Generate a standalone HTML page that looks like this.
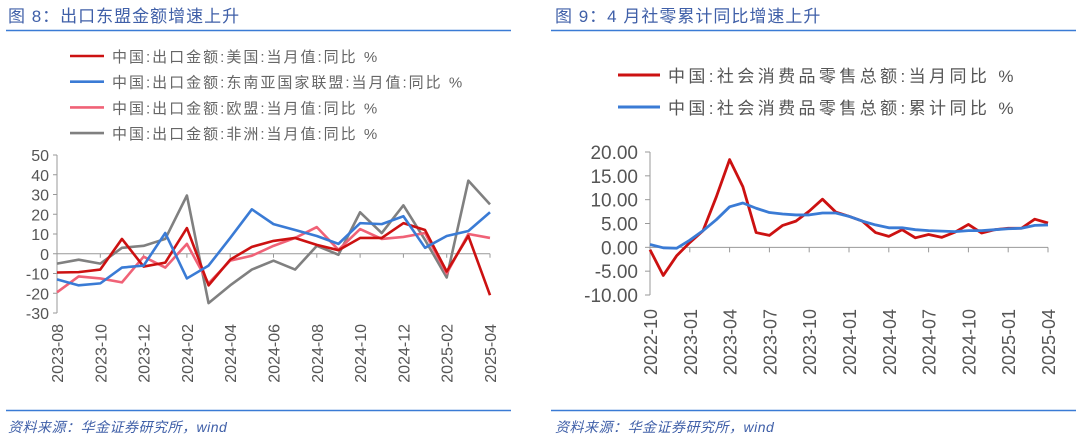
<!DOCTYPE html>
<html><head><meta charset="utf-8">
<style>
body{margin:0;background:#fff;width:1080px;height:442px;overflow:hidden;font-family:"Liberation Sans","Noto Sans CJK SC",sans-serif;}
svg text{font-family:"Liberation Sans","Noto Sans CJK SC",sans-serif;}
</style></head>
<body>
<svg id="c" width="1080" height="442" xmlns="http://www.w3.org/2000/svg">
<text x="8" y="22" font-size="17" letter-spacing="1" fill="#3f5fa8">图 8：出口东盟金额增速上升</text>
<line x1="6" y1="30.5" x2="511" y2="30.5" stroke="#3a7bd5" stroke-width="1.5"/>
<text x="555" y="22" font-size="17" letter-spacing="1" fill="#3f5fa8">图 9：4 月社零累计同比增速上升</text>
<line x1="551" y1="30.5" x2="1076" y2="30.5" stroke="#3a7bd5" stroke-width="1.5"/>
<line x1="6" y1="410.5" x2="511" y2="410.5" stroke="#3a7bd5" stroke-width="1.5"/>
<line x1="551" y1="410.5" x2="1076" y2="410.5" stroke="#3a7bd5" stroke-width="1.5"/>
<text x="8" y="432" font-size="14" letter-spacing="0.5" font-style="italic" fill="#3f5fa8">资料来源：华金证券研究所，wind</text>
<text x="555" y="432" font-size="14" letter-spacing="0.5" font-style="italic" fill="#3f5fa8">资料来源：华金证券研究所，wind</text>
<g id="L"></g><g id="R"></g>
</svg>
<script>
const lCats=["2023-08","2023-09","2023-10","2023-11","2023-12","2024-01","2024-02","2024-03","2024-04","2024-05","2024-06","2024-07","2024-08","2024-09","2024-10","2024-11","2024-12","2025-01","2025-02","2025-03","2025-04"];
const lUS=[-9.5,-9.3,-8,7.5,-6.5,-4.5,13,-16,-3,3.5,6.5,8,4.5,1.8,8,8,15.5,12,-9,9,-21];
const lASEAN=[-13,-16,-15,-7,-6,10.5,-12.5,-6,8,22.5,15,12,9,5,15.5,15,19,3,9,11.5,21];
const lEU=[-19.5,-11.5,-12.5,-14.5,-1.5,-7,5,-15,-3.5,-1,4,8,13.5,2,12.5,7.5,8.5,10.5,-10,10,8];
const lAF=[-5,-3,-5,3,4,7.5,29.5,-25,-16,-8,-3.5,-8,4,-0.5,21,10.5,24.5,7,-12,37,25];
const lTicks=[50,40,30,20,10,0,-10,-20,-30];
const lNames=["中国:出口金额:美国:当月值:同比 %","中国:出口金额:东南亚国家联盟:当月值:同比 %","中国:出口金额:欧盟:当月值:同比 %","中国:出口金额:非洲:当月值:同比 %"];

const rCats=["2022-10","2022-11","2022-12","2023-01","2023-02","2023-03","2023-04","2023-05","2023-06","2023-07","2023-08","2023-09","2023-10","2023-11","2023-12","2024-01","2024-02","2024-03","2024-04","2024-05","2024-06","2024-07","2024-08","2024-09","2024-10","2024-11","2024-12","2025-01","2025-02","2025-03","2025-04"];
const rMonth=[-0.5,-5.9,-1.8,1,3.5,10.6,18.4,12.7,3.1,2.5,4.6,5.5,7.6,10.1,7.4,6.5,5.5,3.1,2.3,3.7,2.0,2.7,2.1,3.2,4.8,3.0,3.7,4.0,4.0,5.9,5.1];
const rCum=[0.6,-0.1,-0.2,1.5,3.5,5.8,8.5,9.3,8.2,7.3,7.0,6.8,6.8,7.2,7.2,6.5,5.5,4.7,4.1,4.1,3.7,3.5,3.4,3.3,3.5,3.5,3.7,3.9,4.0,4.6,4.7];
const rTicks=[20,15,10,5,0,-5,-10];
const rNames=["中国:社会消费品零售总额:当月同比 %","中国:社会消费品零售总额:累计同比 %"];

const NS="http://www.w3.org/2000/svg";
function mk(p,t,a){const e=document.createElementNS(NS,t);for(const k in a)e.setAttribute(k,a[k]);p.appendChild(e);return e;}

(function(){
const g=document.getElementById('L');
const x0=57,x1=490,yTop=155,yBot=313,vMax=50,vMin=-30;
const xs=i=>x0+(x1-x0)*i/(lCats.length-1);
const ys=v=>yTop+(vMax-v)/(vMax-vMin)*(yBot-yTop);
let ax=mk(g,'line',{x1:x0,y1:yTop,x2:x0,y2:yBot,stroke:'#999','stroke-width':1});


let zx=mk(g,'line',{x1:x0,y1:ys(0),x2:x1,y2:ys(0),stroke:'#999','stroke-width':1});


lTicks.forEach(v=>{
 mk(g,'line',{x1:x0-4,y1:ys(v),x2:x0,y2:ys(v),stroke:'#999'});
 const t=mk(g,'text',{x:x0-8,y:ys(v)+6,'text-anchor':'end','font-size':16,fill:'#555'});t.textContent=v;
 
 
});
lCats.forEach((c,i)=>{
 if(i%2)return;
 mk(g,'line',{x1:xs(i),y1:ys(0),x2:xs(i),y2:ys(0)+4,stroke:'#999'});
 const t=mk(g,'text',{x:0,y:0,'text-anchor':'end','font-size':16,fill:'#555',transform:`translate(${xs(i)+6},324) rotate(-90)`});t.textContent=c;
 
 
});
const series=[[lUS,'#cc1111','us'],[lASEAN,'#3a7bd5','asean'],[lEU,'#f06277','eu'],[lAF,'#808080','africa']];
const order=[3,2,0,1];
order.forEach(k=>{
 const [d,col,n]=series[k];
 const p=mk(g,'polyline',{points:d.map((v,i)=>xs(i)+','+ys(v)).join(' '),fill:'none',stroke:col,'stroke-width':2.6,'stroke-linejoin':'round'});
 
 
});
series.forEach((s,k)=>{
 const y=56+k*25.7;
 mk(g,'line',{x1:70,y1:y,x2:104,y2:y,stroke:s[1],'stroke-width':2.6});
 const t=mk(g,'text',{x:112,y:y+6,'font-size':15,'letter-spacing':2,fill:'#666'});t.textContent=lNames[k];
 
 
});
})();

(function(){
const g=document.getElementById('R');
const x0=650,x1=1048,yTop=152,yBot=295,vMax=20,vMin=-10;
const xs=i=>x0+(x1-x0)*i/(rCats.length-1);
const ys=v=>yTop+(vMax-v)/(vMax-vMin)*(yBot-yTop);
let ax=mk(g,'line',{x1:x0,y1:yTop,x2:x0,y2:yBot,stroke:'#999'});


let zx=mk(g,'line',{x1:x0,y1:ys(0),x2:x1,y2:ys(0),stroke:'#999'});


rTicks.forEach(v=>{
 mk(g,'line',{x1:x0-5,y1:ys(v),x2:x0,y2:ys(v),stroke:'#999'});
 const t=mk(g,'text',{x:x0-12,y:ys(v)+7,'text-anchor':'end','font-size':19,fill:'#555'});t.textContent=v.toFixed(2);
 
 
});
rCats.forEach((c,i)=>{
 if(i%3)return;
 mk(g,'line',{x1:xs(i),y1:ys(0),x2:xs(i),y2:ys(0)+5,stroke:'#999'});
 const t=mk(g,'text',{x:0,y:0,'text-anchor':'end','font-size':18,fill:'#555',transform:`translate(${xs(i)+7},309) rotate(-90)`});t.textContent=c;
 
 
});
const series=[[rMonth,'#cc1111','monthly'],[rCum,'#3a7bd5','cumulative']];
series.forEach(s=>{
 const p=mk(g,'polyline',{points:s[0].map((v,i)=>xs(i)+','+ys(v)).join(' '),fill:'none',stroke:s[1],'stroke-width':2.8,'stroke-linejoin':'round'});
 
 
});
series.forEach((s,k)=>{
 const y=75+k*32;
 mk(g,'line',{x1:618,y1:y,x2:660,y2:y,stroke:s[1],'stroke-width':3});
 const t=mk(g,'text',{x:668,y:y+7,'font-size':17,'letter-spacing':3.4,fill:'#555'});t.textContent=rNames[k];
 
 
});
})();
</script>
</body></html>
